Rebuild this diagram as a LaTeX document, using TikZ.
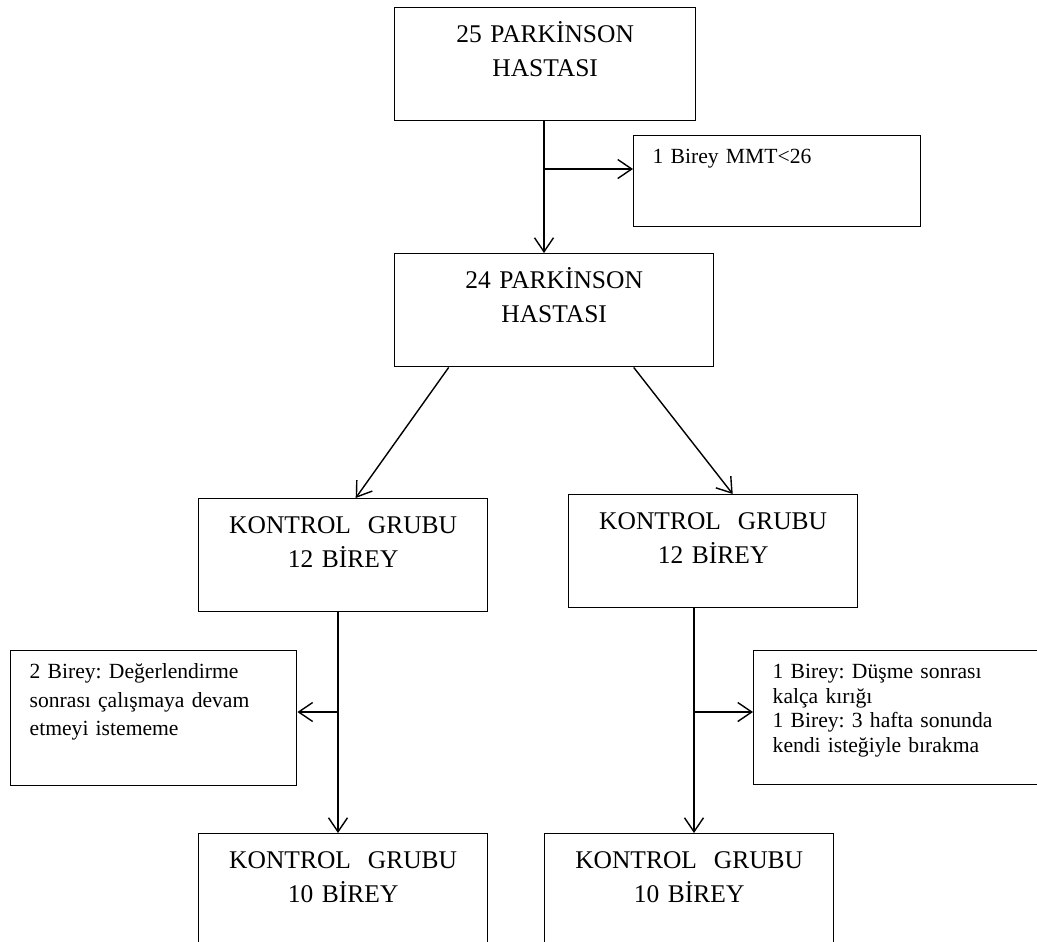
\documentclass[tikz,border=0pt]{standalone}
\usepackage{fontspec}
\setmainfont{Liberation Serif}
\frenchspacing
\usetikzlibrary{arrows.meta,positioning,calc}
\begin{document}
\begin{tikzpicture}[x=0.2mm,y=-0.2mm,>={Straight Barb[length=2.8mm,width=3.8mm]},line width=0.8pt,
box/.style={draw,anchor=north west,align=center,inner sep=0pt,text height=0.7cm,text depth=1.56cm,font=\fontsize{14.5}{19.3}\selectfont},
note/.style={draw,anchor=north west,align=left,inner xsep=0.38cm,inner ysep=0pt,text height=0.56cm,font=\fontsize{12.3}{16.2}\selectfont}]
\clip (0,0) rectangle (1037,942);
\node[box,text width=6.02cm] (p25) at (394,7) {25 PARKİNSON\\HASTASI};
\node[note,text width=4.98cm,text depth=1.26cm] (mmt) at (633,135) {1 Birey MMT<26};
\node[box,text width=6.38cm] (p24) at (394,253) {24 PARKİNSON\\HASTASI};
\node[box,text width=5.78cm] (kontA) at (198,498) {KONTROL~ GRUBU\\12 BİREY};
\node[box,text width=5.78cm] (kontB) at (568,494) {KONTROL~ GRUBU\\12 BİREY};
\node[note,text width=4.96cm,text depth=2.14cm] (dropA) at (10,650) {2 Birey: Değerlendirme\\sonrası çalışmaya devam\\etmeyi istememe};
\node[note,text width=5.24cm,text depth=2.12cm,font=\fontsize{12.3}{14}\selectfont] (dropB) at (753,650) {1 Birey: Düşme sonrası\\kalça kırığı\\1 Birey: 3 hafta sonunda\\kendi isteğiyle bırakma};
\node[box,text width=5.78cm,text depth=2.4cm] (sonA) at (198,833) {KONTROL~ GRUBU\\10 BİREY};
\node[box,text width=5.78cm,text depth=2.4cm] (sonB) at (544,833) {KONTROL~ GRUBU\\10 BİREY};
\coordinate (s1) at (544,169);
\coordinate (s2) at (338,712);
\coordinate (s3) at (694,712);
\draw[->] (p25.south -| s1)--(p24.north -| s1);
\draw[->] (s1)--(s1 -| mmt.west);
\draw[->] ([xshift=-2.11cm]p24.south)--([xshift=0.25cm]kontA.north);
\draw[->] ([xshift=1.59cm]p24.south)--([xshift=0.39cm]kontB.north);
\draw[->] (kontA.south -| s2)--(sonA.north -| s2);
\draw[->] (s2)--(s2 -| dropA.east);
\draw[->] (kontB.south -| s3)--(sonB.north -| s3);
\draw[->] (s3)--(s3 -| dropB.west);
\end{tikzpicture}
\end{document}
